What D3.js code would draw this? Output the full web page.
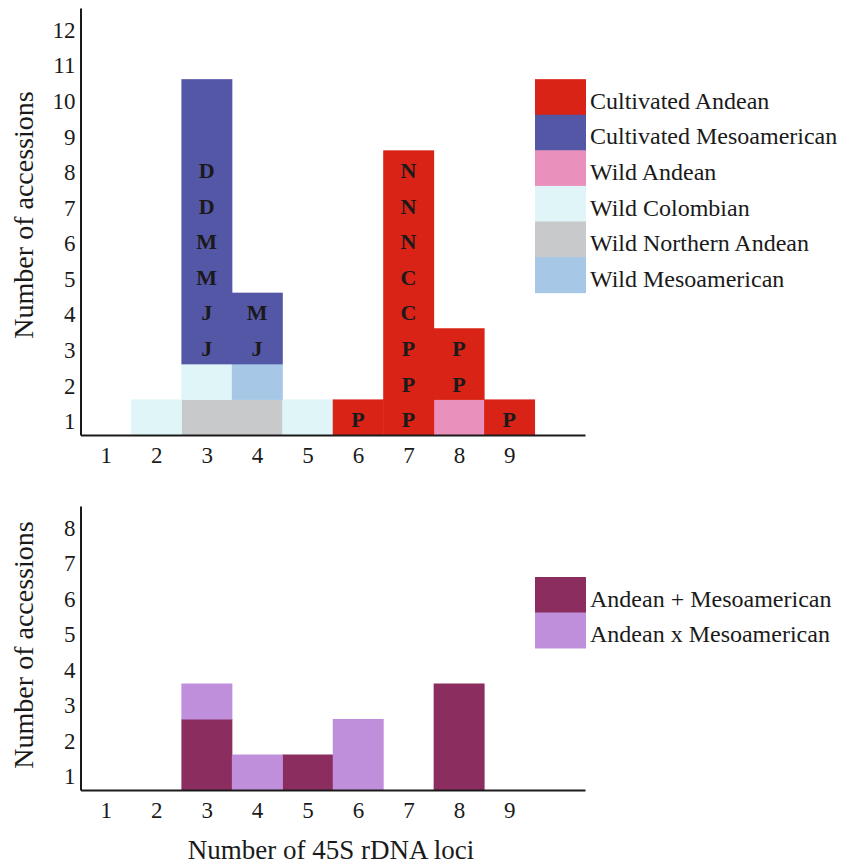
<!DOCTYPE html>
<html>
<head>
<meta charset="utf-8">
<script src="https://cdn.jsdelivr.net/npm/d3@7"></script>
<style>
  body { margin: 0; background: #fff; }
  svg text { font-family: "Liberation Serif", "Times New Roman", serif; fill: #1a1a1a; }
</style>
</head>
<body>
<div class="chart"></div>
<script>
// loci on the x axis
var loci = [1, 2, 3, 4, 5, 6, 7, 8, 9]
var topYTicks = [1, 2, 3, 4, 5, 6, 7, 8, 9, 10, 11, 12]
var bottomYTicks = [1, 2, 3, 4, 5, 6, 7, 8]

// top panel series, counts per locus 1..9 (stack order bottom -> top)
var wildNorthernAndean = [0, 0, 1, 1, 0, 0, 0, 0, 0]
var wildColombian = [0, 1, 1, 0, 1, 0, 0, 0, 0]
var wildMesoamerican = [0, 0, 0, 1, 0, 0, 0, 0, 0]
var wildAndean = [0, 0, 0, 0, 0, 0, 0, 1, 0]
var cultivatedMesoamerican = [0, 0, 8, 2, 0, 0, 0, 0, 0]
var cultivatedAndean = [0, 0, 0, 0, 0, 1, 8, 2, 1]

// letters written in cultivated cells, from bottom cell upward
var mesoLetters = [[], [], ['J', 'J', 'M', 'M', 'D', 'D'], ['J', 'M'], [], [], [], [], []]
var andeanLetters = [[], [], [], [], [], ['P'], ['P', 'P', 'P', 'C', 'C', 'N', 'N', 'N'], ['P', 'P'], ['P']]

// bottom panel series
var andeanPlusMeso = [0, 0, 2, 0, 1, 0, 0, 3, 0]
var andeanXMeso = [0, 0, 1, 1, 0, 2, 0, 0, 0]

var topLegend = ['Cultivated Andean', 'Cultivated Mesoamerican', 'Wild Andean', 'Wild Colombian', 'Wild Northern Andean', 'Wild Mesoamerican']
var bottomLegend = ['Andean + Mesoamerican', 'Andean x Mesoamerican']

var colors = {
    'Cultivated Andean': '#d92316',
    'Cultivated Mesoamerican': '#5456a6',
    'Wild Andean': '#ea90bc',
    'Wild Colombian': '#e0f5f7',
    'Wild Northern Andean': '#c8c9cb',
    'Wild Mesoamerican': '#a6c8e6',
    'Andean + Mesoamerican': '#8b2d5e',
    'Andean x Mesoamerican': '#bf8fdb'
}

var svg = d3.select('.chart').append('svg')
    .attr('width', 854)
    .attr('height', 867)

var xScale = d3.scaleLinear().domain([0.5, 10.5]).range([80.5, 585])

function panel(opts) {
    var g = svg.append('g')
    var yScale = d3.scaleLinear().domain([0, opts.yMax]).range([opts.bottom, opts.top])

    var rows = loci.map(function(l, i) {
        var r = { locus: l }
        opts.series.forEach(function(s) { r[s.key] = s.values[i] })
        return r
    })
    var stacked = d3.stack().keys(opts.series.map(function(s) { return s.key }))(rows)

    g.selectAll('g.layer')
        .data(stacked)
        .enter()
        .append('g')
        .attr('class', 'layer')
        .attr('fill', function(d) { return colors[d.key] })
        .selectAll('rect')
        .data(function(d) { return d.filter(function(e) { return e[1] > e[0] }) })
        .enter()
        .append('rect')
        .attr('x', function(d) { return xScale(d.data.locus - 0.5) })
        .attr('width', function(d) { return xScale(d.data.locus + 0.5) - xScale(d.data.locus - 0.5) + 0.5 })
        .attr('y', function(d) { return yScale(d[1]) })
        .attr('height', function(d) { return yScale(d[0]) - yScale(d[1]) + 0.5 })

    // letters inside cells
    ;(opts.letters || []).forEach(function(lt) {
        var layer = stacked.find(function(s) { return s.key === lt.key })
        lt.values.forEach(function(list, i) {
            var base = layer[i][0]
            list.forEach(function(ch, j) {
                g.append('text')
                    .attr('x', xScale(loci[i]))
                    .attr('y', yScale(base + j + 0.5))
                    .attr('dy', '0.45em')
                    .attr('text-anchor', 'middle')
                    .style('font-size', '22px')
                    .style('font-weight', 'bold')
                    .text(ch)
            })
        })
    })

    var xAxis = d3.axisBottom(xScale).tickValues(loci).tickSize(0).tickPadding(12)
    var yAxis = d3.axisLeft(yScale)
        .tickValues(opts.yTicks.map(function(v) { return v - 0.5 }))
        .tickFormat(function(v) { return v + 0.5 })
        .tickSize(0).tickPadding(5)

    var gx = g.append('g')
        .attr('transform', 'translate(0,' + opts.bottom + ')')
        .call(xAxis)
    var gy = g.append('g')
        .attr('transform', 'translate(80.5,0)')
        .call(yAxis)
    gy.selectAll('text').attr('dy', '0.5em')
    ;[gx, gy].forEach(function(a) {
        a.select('.domain').attr('stroke', '#1a1a1a').attr('stroke-width', 2)
        a.selectAll('text').style('font-size', '23px').style('font-family', '"Liberation Serif", serif').attr('fill', '#1a1a1a')
    })

    g.append('text')
        .attr('transform', 'translate(33,' + opts.titleY + ') rotate(-90)')
        .attr('text-anchor', 'middle')
        .style('font-size', '28px')
        .text('Number of accessions')

    // legend
    var legendTop = yScale(opts.legendAt)
    var rowH = yScale(0) - yScale(1)
    opts.legend.forEach(function(name, i) {
        g.append('rect')
            .attr('x', 535)
            .attr('y', legendTop + i * rowH)
            .attr('width', 51)
            .attr('height', rowH + 0.5)
            .attr('fill', colors[name])
        g.append('text')
            .attr('x', 590)
            .attr('y', legendTop + (i + 1) * rowH - 6)
            .style('font-size', '24px')
            .text(name)
    })
}

panel({
    top: 8, bottom: 435, yMax: 12, yTicks: topYTicks, titleY: 215, legendAt: 10,
    series: [
        { key: 'Wild Northern Andean', values: wildNorthernAndean },
        { key: 'Wild Colombian', values: wildColombian },
        { key: 'Wild Mesoamerican', values: wildMesoamerican },
        { key: 'Wild Andean', values: wildAndean },
        { key: 'Cultivated Mesoamerican', values: cultivatedMesoamerican },
        { key: 'Cultivated Andean', values: cultivatedAndean }
    ],
    letters: [
        { key: 'Cultivated Mesoamerican', values: mesoLetters },
        { key: 'Cultivated Andean', values: andeanLetters }
    ],
    legend: topLegend
})

panel({
    top: 506, bottom: 790, yMax: 8, yTicks: bottomYTicks, titleY: 645, legendAt: 6,
    series: [
        { key: 'Andean + Mesoamerican', values: andeanPlusMeso },
        { key: 'Andean x Mesoamerican', values: andeanXMeso }
    ],
    legend: bottomLegend
})

svg.append('text')
    .attr('x', 331)
    .attr('y', 859)
    .attr('text-anchor', 'middle')
    .style('font-size', '27px')
    .text('Number of 45S rDNA loci')
</script>
</body>
</html>
